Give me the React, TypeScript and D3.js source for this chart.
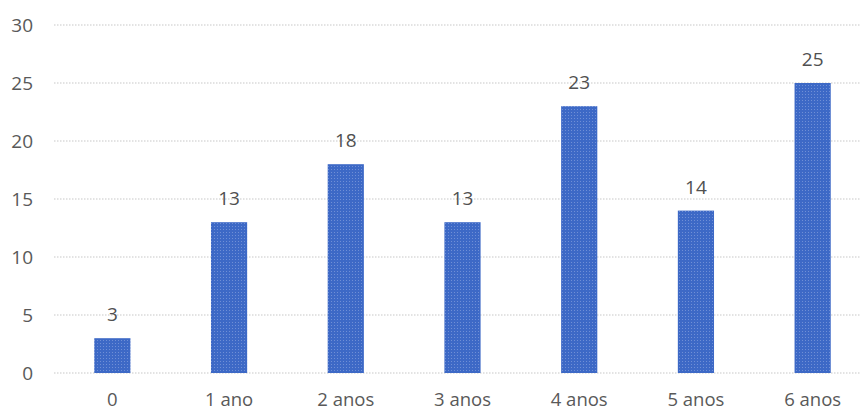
import React from "react";
import * as d3 from "d3";

const categories = ["0", "1 ano", "2 anos", "3 anos", "4 anos", "5 anos", "6 anos"];
const values = [3, 13, 18, 13, 23, 14, 25];
const yTicks = [0, 5, 10, 15, 20, 25, 30];

const W = 861;
const H = 411;

export default function App() {
  const x = d3.scaleBand<string>().domain(categories).range([54, 871]).paddingInner(0.69).paddingOuter(0.345);
  const y = d3.scaleLinear().domain([0, 30]).range([373, 25]);
  const font = "'Open Sans', sans-serif";
  return (
    <svg width={W} height={H} style={{ position: "absolute", left: 0, top: 0, background: "#fff" }}>
      <defs>
        <pattern id="dots" width="3" height="3" patternUnits="userSpaceOnUse">
          <rect width="3" height="3" fill="#3d69c6" />
          <rect x="1" y="1" width="1" height="1" fill="#6f8fd6" />
        </pattern>
      </defs>
      {yTicks.map((t) => (
        <g key={t}>
          <line x1={54} x2={W} y1={y(t)} y2={y(t)} stroke="#c8c8c8" strokeWidth={1.2} strokeDasharray="1.5 1.5" />
          <text x={33} y={y(t)} dy="0.36em" textAnchor="end" fontFamily={font} fontSize={19} fill="#595959">
            {t}
          </text>
        </g>
      ))}
      {categories.map((c, i) => (
        <g key={c}>
          <rect x={x(c)} y={y(values[i])} width={x.bandwidth()} height={y(0) - y(values[i])} fill="url(#dots)" />
          <text x={(x(c) as number) + x.bandwidth() / 2} y={y(values[i]) - 17} textAnchor="middle" fontFamily={font} fontSize={19} fill="#505050">
            {values[i]}
          </text>
          <text x={(x(c) as number) + x.bandwidth() / 2} y={406} textAnchor="middle" fontFamily={font} fontSize={18.5} fill="#595959">
            {c}
          </text>
        </g>
      ))}
    </svg>
  );
}
